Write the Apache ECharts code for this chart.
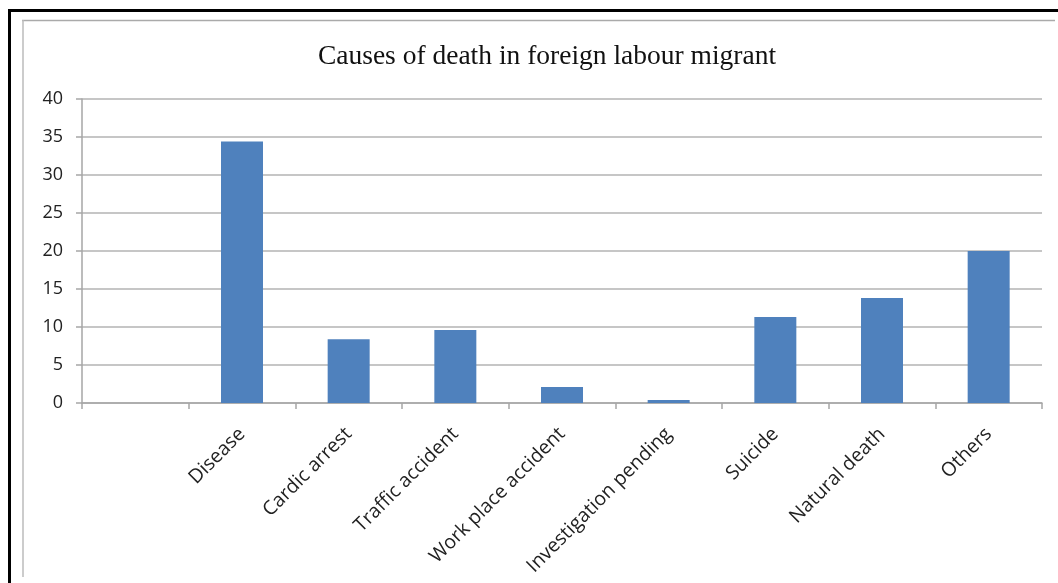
<!DOCTYPE html>
<html>
<head>
<meta charset="utf-8">
<script src="https://cdn.jsdelivr.net/npm/echarts@6/dist/echarts.min.js"></script>
<style>
html,body{margin:0;padding:0;background:#fff;}
#c{width:1058px;height:583px;}
</style>
</head>
<body>
<div id="c"></div>
<script>
const titleText = "Causes of death in foreign labour migrant";
const categories = ["", "Disease", "Cardic arrest", "Traffic accident", "Work place accident", "Investigation pending", "Suicide", "Natural death", "Others"];
const values = [null, 34.4, 8.4, 9.6, 2.1, 0.4, 11.3, 13.8, 20.0];
const yTicks = { min: 0, max: 40, interval: 5 };

const chart = echarts.init(document.getElementById('c'), null, { renderer: 'canvas' });
chart.setOption({
  animation: false,
  backgroundColor: '#fff',
  title: {
    text: titleText,
    left: 542, top: 38,
    textAlign: 'center',
    textStyle: { fontFamily: 'Liberation Serif', fontWeight: 'normal', fontSize: 27.5, color: '#111' }
  },
  graphic: [
    { type: 'line', shape: { x1: 8, y1: 10.5, x2: 1058, y2: 10.5 }, style: { stroke: '#000', lineWidth: 3 } },
    { type: 'line', shape: { x1: 9.5, y1: 9, x2: 9.5, y2: 583 }, style: { stroke: '#000', lineWidth: 3 } },
    { type: 'line', shape: { x1: 22, y1: 20.5, x2: 1055, y2: 20.5 }, style: { stroke: '#aaa', lineWidth: 1.5 } },
    { type: 'line', shape: { x1: 23, y1: 20, x2: 23, y2: 577 }, style: { stroke: '#bbb', lineWidth: 1.5 } }
  ],
  grid: { left: 82, right: 16, top: 99, bottom: 180, containLabel: false },
  xAxis: {
    type: 'category',
    data: categories,
    boundaryGap: true,
    axisLine: { lineStyle: { color: '#a6a6a6', width: 1.5 } },
    axisTick: { show: true, length: 6, lineStyle: { color: '#a6a6a6', width: 1.5 } },
    axisLabel: {
      rotate: 45, interval: 0, margin: 28,
      fontFamily: 'Open Sans', fontSize: 19.5, color: '#222'
    },
    splitLine: { show: false }
  },
  yAxis: {
    type: 'value',
    min: yTicks.min, max: yTicks.max, interval: yTicks.interval,
    axisLine: { show: true, lineStyle: { color: '#a6a6a6', width: 1.5 } },
    axisTick: { show: true, length: 6, lineStyle: { color: '#a6a6a6', width: 1.5 } },
    axisLabel: { margin: 19, fontFamily: 'Open Sans', fontSize: 18, color: '#222' },
    splitLine: { show: true, lineStyle: { color: '#b3b3b3', width: 1.5 } }
  },
  series: [{
    type: 'bar',
    data: values,
    barWidth: 42,
    itemStyle: { color: '#4f81bd' }
  }]
});
</script>
</body>
</html>
